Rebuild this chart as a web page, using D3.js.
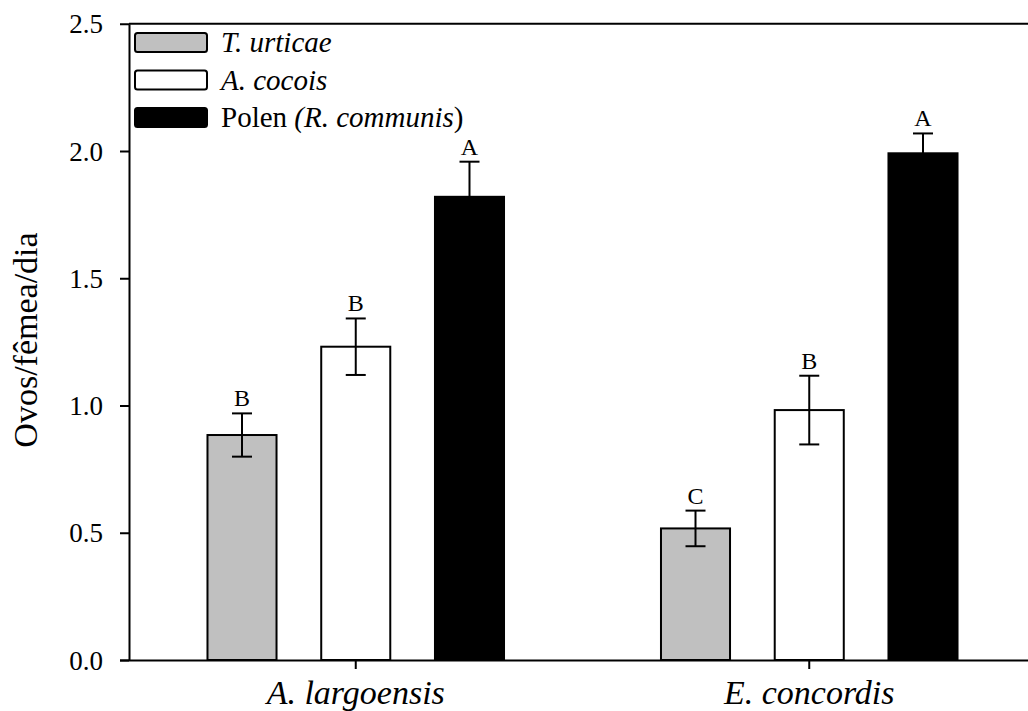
<!DOCTYPE html>
<html>
<head>
<meta charset="utf-8">
<script src="https://cdn.jsdelivr.net/npm/d3@7"></script>
<style>
  html, body { margin: 0; padding: 0; background: #fff; }
  svg { display: block; }
  svg text { font-family: "Liberation Serif", "Times New Roman", serif !important; fill: #000; }
</style>
</head>
<body>
<svg id="chart" width="1028" height="711" font-family="Liberation Serif"></svg>
<script>
// ---- Data ----
const categories = ["A. largoensis", "E. concordis"];
const seriesNames = ["T. urticae", "A. cocois", "Polen (R. communis)"];
const seriesKeys = ["turticae", "acocois", "polen"];
const seriesColors = ["#c0c0c0", "#ffffff", "#000000"];
const turticaeMeans = [0.884, 0.517];
const turticaeSE = [0.085, 0.070];
const acocoisMeans = [1.231, 0.982];
const acocoisSE = [0.111, 0.135];
const polenMeans = [1.820, 1.991];
const polenSE = [0.138, 0.078];
const turticaeLetters = ["B", "C"];
const acocoisLetters = ["B", "B"];
const polenLetters = ["A", "A"];
const yTicks = [0.0, 0.5, 1.0, 1.5, 2.0, 2.5];
const yLabel = "Ovos/fêmea/dia";

const means = [turticaeMeans, acocoisMeans, polenMeans];
const ses = [turticaeSE, acocoisSE, polenSE];
const letters = [turticaeLetters, acocoisLetters, polenLetters];

const rows = [];
categories.forEach((c, ci) => {
  seriesKeys.forEach((k, si) => {
    rows.push({cat: c, key: k, si: si, mean: means[si][ci], se: ses[si][ci], letter: letters[si][ci]});
  });
});

// ---- Layout ----
const svg = d3.select("#chart");
const plotLeft = 129, plotRight = 1036, plotTop = 23.75, plotBottom = 660;
const serif = "Liberation Serif, Times New Roman, serif";

const x0 = d3.scaleBand().domain(categories).range([plotLeft, plotRight]);
const x1 = d3.scaleBand().domain(seriesKeys).range([0, x0.bandwidth()])
  .paddingInner(0.393).paddingOuter(0.69);
const y = d3.scaleLinear().domain([0, 2.5]).range([plotBottom, plotTop]);

// Top frame line
svg.append("line")
  .attr("x1", plotLeft).attr("x2", 1028)
  .attr("y1", y(2.5)).attr("y2", y(2.5))
  .attr("stroke", "#000").attr("stroke-width", 2);

// Bars
svg.append("g").selectAll("rect").data(rows).join("rect")
  .attr("x", d => x0(d.cat) + x1(d.key))
  .attr("y", d => y(d.mean))
  .attr("width", x1.bandwidth())
  .attr("height", d => y(0) - y(d.mean))
  .attr("fill", d => seriesColors[d.si])
  .attr("stroke", "#000").attr("stroke-width", 2);

// Error bars
const eg = svg.append("g").attr("stroke", "#000").attr("stroke-width", 2);
rows.forEach(d => {
  const cx = x0(d.cat) + x1(d.key) + x1.bandwidth() / 2;
  eg.append("line").attr("x1", cx).attr("x2", cx)
    .attr("y1", y(d.mean - d.se)).attr("y2", y(d.mean + d.se));
  eg.append("line").attr("x1", cx - 10).attr("x2", cx + 10)
    .attr("y1", y(d.mean + d.se)).attr("y2", y(d.mean + d.se));
  eg.append("line").attr("x1", cx - 10).attr("x2", cx + 10)
    .attr("y1", y(d.mean - d.se)).attr("y2", y(d.mean - d.se));
});

// Significance letters
svg.append("g").selectAll("text").data(rows).join("text")
  .attr("x", d => x0(d.cat) + x1(d.key) + x1.bandwidth() / 2)
  .attr("y", d => y(d.mean + d.se) - 7)
  .attr("text-anchor", "middle")
  .attr("font-family", serif)
  .attr("font-size", 24)
  .text(d => d.letter);

// Y axis
const yAxis = svg.append("g").attr("transform", `translate(${plotLeft},0)`)
  .call(d3.axisLeft(y).tickValues(yTicks).tickFormat(d3.format(".1f"))
    .tickSize(9).tickSizeOuter(0).tickPadding(17))
  .attr("font-family", serif).attr("font-size", 27);
yAxis.select(".domain").attr("stroke", "#000").attr("stroke-width", 2);
yAxis.selectAll(".tick line").attr("stroke", "#000").attr("stroke-width", 2);
yAxis.selectAll(".tick text").attr("fill", "#000").attr("dy", "0.34em");

// X axis
const xAxis = svg.append("g").attr("transform", `translate(0,${plotBottom})`)
  .call(d3.axisBottom(x0).tickSize(9).tickSizeOuter(0))
  .attr("font-family", serif).attr("font-size", 34);
xAxis.select(".domain").attr("stroke", "#000").attr("stroke-width", 2)
  .attr("d", `M${plotLeft - 9},0.5H1028`);
xAxis.selectAll(".tick line").attr("stroke", "#000").attr("stroke-width", 2);
xAxis.selectAll(".tick text")
  .attr("font-style", "italic")
  .attr("fill", "#000").attr("y", 44).attr("dy", 0);

// Y title
svg.append("text")
  .attr("transform", "translate(37,340) rotate(-90)")
  .attr("text-anchor", "middle")
  .attr("font-family", serif)
  .attr("font-size", 34)
  .text(yLabel);

// Legend
const legend = svg.append("g").attr("font-family", serif);
const legendParts = [
  [{t: "T. urticae", i: true}],
  [{t: "A. cocois", i: true}],
  [{t: "Polen ", i: false}, {t: "(R. communis", i: true}, {t: ")", i: false}]
];
seriesNames.forEach((name, i) => {
  const gy = 33 + i * 37.5;
  legend.append("rect")
    .attr("x", 135).attr("y", gy).attr("width", 72).attr("height", 19)
    .attr("rx", 2.5)
    .attr("fill", seriesColors[i]).attr("stroke", "#000").attr("stroke-width", 2);
  const t = legend.append("text")
    .attr("x", 221).attr("y", gy + 19)
    .attr("font-size", 29);
  legendParts[i].forEach(p => {
    t.append("tspan").attr("font-style", p.i ? "italic" : "normal").text(p.t);
  });
});
</script>
</body>
</html>
